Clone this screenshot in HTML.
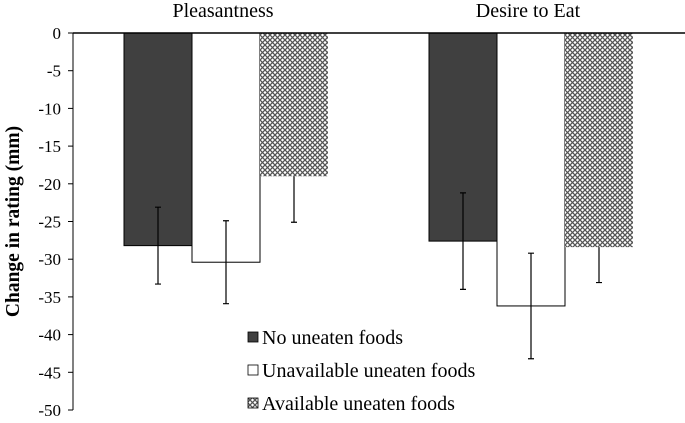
<!DOCTYPE html>
<html><head><meta charset="utf-8"><style>
body{margin:0;background:#fff;}
svg{display:block;font-family:"Liberation Serif",serif;}
</style></head><body>
<svg id="chart" width="685" height="423" viewBox="0 0 685 423">
<defs>
<pattern id="hatch" width="5" height="5" patternUnits="userSpaceOnUse">
<rect width="5" height="5" fill="#fff"/>
<path d="M0,0 L5,5 M5,0 L0,5" stroke="#555" stroke-width="1.3"/>
</pattern>
</defs>
<g id="plot"></g>
</svg>
<script>
const categories=["Pleasantness","Desire to Eat"];
const seriesNames=["No uneaten foods","Unavailable uneaten foods","Available uneaten foods"];
const noUneaten=[-28.2,-27.6];
const unavailable=[-30.4,-36.2];
const available=[-19.0,-28.4];
const errNo=[5.1,6.4];
const errUnavail=[5.5,7.0];
const errAvail=[6.1,4.7];
const yTicks=[0,-5,-10,-15,-20,-25,-30,-35,-40,-45,-50];

const NS="http://www.w3.org/2000/svg";
const g=document.getElementById('plot');
const x0=73, y0=33, yScaleK=7.54;
function y(v){return y0-v*yScaleK;}
const groupStart=[124,429], barW=68;
function mk(tag,attrs){const e=document.createElementNS(NS,tag);for(const k in attrs)e.setAttribute(k,attrs[k]);g.appendChild(e);return e;}

yTicks.forEach(t=>{
  const l=mk('line',{x1:x0-5,x2:x0,y1:y(t),y2:y(t),stroke:'#000','stroke-width':1});
  
  
  const tx=mk('text',{x:x0-12,y:y(t)+6,'text-anchor':'end','font-size':17});
  tx.textContent=t;
  
  
});
const ax=mk('line',{x1:x0,x2:x0,y1:y(0),y2:y(-50),stroke:'#000','stroke-width':1});



const series=[noUneaten,unavailable,available];
const errs=[errNo,errUnavail,errAvail];
const fills=['#404040','#fff','url(#hatch)'];
categories.forEach((c,i)=>{
  series.forEach((s,j)=>{
    const bx=groupStart[i]+j*barW;
    const r=mk('rect',{x:bx,y:y(0),width:barW,height:y(s[i])-y(0),fill:fills[j],stroke:j===2?'none':'#000','stroke-width':1});
    
    
    const cx=bx+barW/2;
    const top=j===2?s[i]:s[i]+errs[j][i];
    const e=mk('path',{d:`M${cx},${y(top)}V${y(s[i]-errs[j][i])}M${cx-3},${y(s[i]-errs[j][i])}H${cx+3}`+(j===2?'':`M${cx-3},${y(s[i]+errs[j][i])}H${cx+3}`),stroke:'#000','stroke-width':1.2,fill:'none'});
    
    
  });
  const ct=mk('text',{x:groupStart[i]+barW*1.5-3,y:17,'text-anchor':'middle','font-size':20});
  ct.textContent=c;
  
  
});
const zl=mk('line',{x1:x0,x2:685,y1:y(0),y2:y(0),stroke:'#000','stroke-width':1.5});



const yt=mk('text',{x:0,y:0,transform:`translate(19,${(y(0)+y(-50))/2}) rotate(-90)`,'text-anchor':'middle','font-size':19.5,'font-weight':'bold'});
yt.textContent='Change in rating (mm)';



seriesNames.forEach((n,j)=>{
  const ly=344+j*33;
  const r=mk('rect',{x:248,y:ly-12,width:10,height:10,fill:fills[j],stroke:'#000','stroke-width':0.8});
  
  
  const t=mk('text',{x:262,y:ly,'font-size':20});
  t.textContent=n;
  
  
});
</script>
</body></html>
